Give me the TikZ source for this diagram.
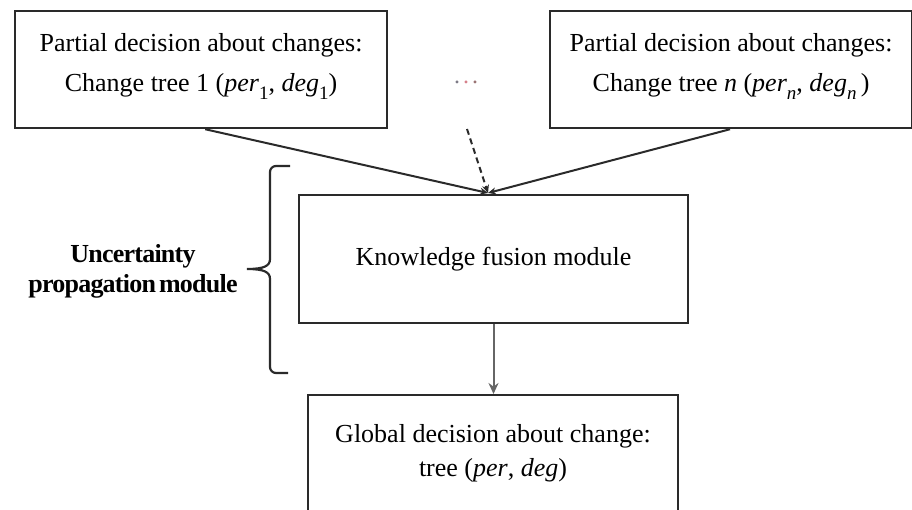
\documentclass[tikz,border=0pt]{standalone}
\usepackage{fontspec}
\setmainfont{Liberation Serif}
\newfontfamily\bracelabelfont[LetterSpace=-3,WordSpace=0.55]{Liberation Serif}
\usetikzlibrary{arrows.meta}

\definecolor{edge}{HTML}{2A2A2A}
\definecolor{flowgray}{HTML}{666666}
\definecolor{dotA}{HTML}{7D7A86}
\definecolor{dotB}{HTML}{D6808A}
\definecolor{dotC}{HTML}{9A7474}

% lowered subscript as used in the tree labels
\newcommand\lowsub[1]{\raisebox{-8pt}{\fontsize{19}{19}\selectfont #1}}

\tikzset{
  box/.style={draw=edge, line width=2.2pt, rectangle, align=center,
    font=\fontsize{26}{40}\selectfont},
  partialbox/.style={box, anchor=north west,
    inner ysep=22pt, text depth=15pt},
  link/.style={draw=edge, line width=2pt, -{Stealth[length=8pt,width=7pt]}},
  dashlink/.style={link, dash pattern=on 6pt off 4pt},
  flow/.style={draw=flowgray, line width=2pt,
    -{Stealth[length=11pt,width=10pt]}},
  bracestroke/.style={draw=edge, line width=2.2pt},
  bracelabel/.style={align=center,
    font=\bracelabelfont\bfseries\fontsize{26}{30}\selectfont},
}

\begin{document}
\begin{tikzpicture}[x=1pt,y=-1pt]
\useasboundingbox (0,0) rectangle (912,510);

% partial decisions
\node[partialbox, minimum width=372pt] (p1) at (14,10)
  {Partial decision about changes:\\
   Change tree 1 (\textit{per}\lowsub{1}, \textit{deg}\lowsub{1})};
\node[partialbox, minimum width=362pt] (pn) at (549,10)
  {Partial decision about changes:\\
   Change tree \textit{n} (\textit{per}\lowsub{\textit{n}}, \textit{deg}\lowsub{\textit{n}}\,)};

% elided trees in between
\node[anchor=base, inner sep=0pt, font=\fontsize{24}{24}\selectfont] (dots) at (466,84)
  {\textcolor{dotA}{.}\kern3pt\textcolor{dotB}{.}\kern3pt\textcolor{dotC}{.}};

% fusion and global decision
\node[box, minimum width=389pt, minimum height=128pt] (kf) at (493.5,259)
  {Knowledge fusion module};
\node[box, anchor=north, minimum width=370pt, inner ysep=29pt, text depth=40pt,
  font=\fontsize{26}{34}\selectfont] (gd) at (493,394)
  {Global decision about change:\\ tree (\textit{per}, \textit{deg})};

% inputs converging on the fusion module
\coordinate (join) at (488,193);
\coordinate (dashstart) at (467,129);
\draw[link] ([xshift=-183pt]p1.south east) -- (join);
\draw[link] ([xshift=181pt]pn.south west) -- (join);
\draw[dashlink] (dashstart) -- (join);

% output of the fusion module
\draw[flow] (kf.south) -- (kf.south |- gd.north);

% brace grouping the uncertainty propagation stage
\draw[bracestroke] (290,166) -- (276,166) to[out=180,in=90] (270,172)
  -- (270,259) .. controls (270,266) and (264,269) .. (247,269)
  .. controls (264,269) and (270,272) .. (270,279)
  -- (270,367) to[out=-90,in=180] (276,373) -- (288,373);
\coordinate (bracetip) at (247,269);
\node[bracelabel] (upm) at (133,271) {Uncertainty\\propagation module};
\end{tikzpicture}
\end{document}
